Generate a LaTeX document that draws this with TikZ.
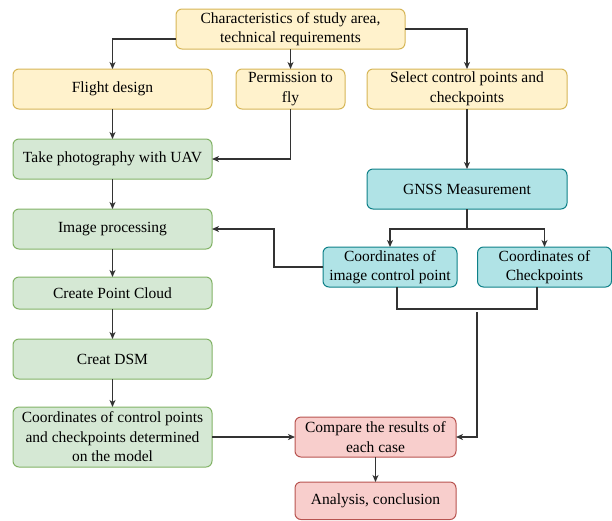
\documentclass[tikz,border=0pt]{standalone}
\usepackage{fontspec}
\setmainfont{Liberation Serif}
\usepackage{xcolor}
\usepackage{tikz}
\usetikzlibrary{arrows.meta}
\usetikzlibrary{shapes,positioning}
\definecolor{yellowFill}{HTML}{FFF2CC}
\definecolor{yellowLine}{HTML}{D6B656}
\definecolor{greenFill}{HTML}{D5E8D4}
\definecolor{greenLine}{HTML}{82B366}
\definecolor{cyanFill}{HTML}{B0E3E6}
\definecolor{cyanLine}{HTML}{0E8088}
\definecolor{redFill}{HTML}{F8CECC}
\definecolor{redLine}{HTML}{B85450}
\tikzset{>={Stealth[length=7pt, width=6pt, inset=2pt]}}
\tikzset{flow-line/.style={line width=1.2pt, draw=black!80}}
\tikzset{flow-box/.style={
        draw,
        line width=1pt,
        rounded corners=6pt,
        align=center,
        inner sep=1pt,
        outer sep=0pt,
        minimum width=199pt,
        minimum height=40pt,
        text=black,
        font=\fontsize{15.5}{19.5}\selectfont
    }
}
\tikzset{yellow-box/.style={flow-box, fill=yellowFill, draw=yellowLine}}
\tikzset{green-box/.style={flow-box, fill=greenFill, draw=greenLine}}
\tikzset{cyan-box/.style={flow-box, fill=cyanFill, draw=cyanLine}}
\tikzset{red-box/.style={flow-box, fill=redFill, draw=redLine}}

\begin{document}
\begin{tikzpicture}[x=1pt, y=1pt]
    \useasboundingbox (0,0) rectangle (612,-520);

    % top row
    \node[yellow-box, minimum width=229pt] (study) at (290.5,-29) {Characteristics of study area,\\technical requirements};
    \node[yellow-box, minimum width=109pt, below=20pt of study] (permission) {Permission to\\fly};
    \node[yellow-box, below=20pt of study, xshift=-178pt] (flight) {Flight design};
    \node[yellow-box, minimum width=200pt, below=20pt of study, xshift=176.5pt] (select) {Select control points and\\checkpoints};

    % left column
    \node[green-box, below=30pt of flight] (photo) {Take photography with UAV};
    \node[green-box, below=30pt of photo] (processing) {Image processing};
    \node[green-box, minimum height=32pt, below=28pt of processing] (cloud) {Create Point Cloud};
    \node[green-box, below=30pt of cloud] (dsm) {Creat DSM};
    \node[green-box, minimum height=60pt, below=28pt of dsm] (modelpts) {Coordinates of control points\\and checkpoints determined\\on the model};

    % right column
    \node[cyan-box, minimum width=200pt, below=60pt of select] (gnss) {GNSS Measurement};
    \node[cyan-box, minimum width=134pt, below=38pt of gnss, xshift=-77pt] (imagecp) {Coordinates of\\image control point};
    \node[cyan-box, minimum width=134pt, below=38pt of gnss, xshift=77.5pt] (checkpts) {Coordinates of\\Checkpoints};

    % results
    \node[red-box, minimum width=161pt, right=83pt of modelpts] (compare) {Compare the results of\\each case};
    \node[red-box, minimum width=161pt, minimum height=37.5pt, below=25pt of compare] (analysis) {Analysis, conclusion};

    \coordinate (merge) at (477,-312);

    \draw[->, flow-line] ([yshift=-10pt]study.west) -| (flight.north);
    \draw[->, flow-line] (study.south) -- (permission.north);
    \draw[->, flow-line] (study.east) -| (select.north);
    \draw[->, flow-line] (flight.south) -- (photo.north);
    \draw[->, flow-line] (permission.south) |- (photo.east);
    \draw[->, flow-line] (photo.south) -- (processing.north);
    \draw[->, flow-line] (processing.south) -- (cloud.north);
    \draw[->, flow-line] (cloud.south) -- (dsm.north);
    \draw[->, flow-line] (dsm.south) -- (modelpts.north);
    \draw[->, flow-line] (select.south) -- (gnss.north);
    \draw[->, flow-line] (gnss.south) -- ++(0,-20) -| (imagecp.north);
    \draw[->, flow-line] (gnss.south) -- ++(0,-20) -| (checkpts.north);
    \draw[->, flow-line] (imagecp.west) -- ++(-49,0) |- (processing.east);
    \draw[flow-line] ([xshift=7pt]imagecp.south) -- ++(0,-22) -| ([xshift=-7.5pt]checkpts.south);
    \draw[->, flow-line] (merge) |- (compare.east);
    \draw[->, flow-line] (modelpts.east) -- (compare.west);
    \draw[->, flow-line] (compare.south) -- (analysis.north);
\end{tikzpicture}
\end{document}
